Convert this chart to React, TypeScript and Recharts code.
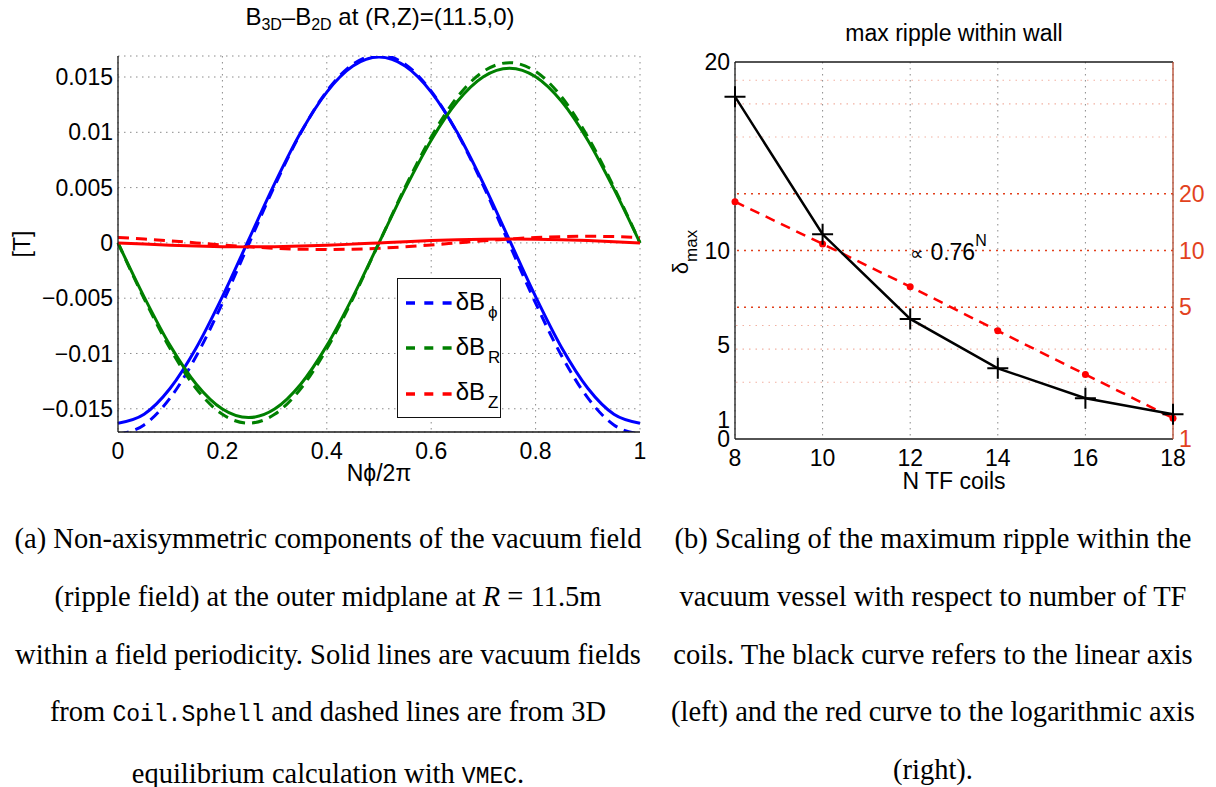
import React from 'react';
import {
  LineChart,
  ComposedChart,
  Line,
  XAxis,
  YAxis,
  CartesianGrid,
  Legend,
  ReferenceLine,
} from 'recharts';

const SANS = "'Liberation Sans', Arial, Helvetica, sans-serif";
const SERIF = "'Liberation Serif', 'Times New Roman', serif";
const MONO = "'Liberation Mono', 'DejaVu Sans Mono', monospace";

// ---------- (a) ripple field along one field period ----------
const phase = [0, 0.05, 0.1, 0.15, 0.2, 0.25, 0.3, 0.35, 0.4, 0.45, 0.5, 0.55, 0.6, 0.65, 0.7, 0.75, 0.8, 0.85, 0.9, 0.95, 1];
// dashed: VMEC 3D equilibrium
const bPhiVmec = [-0.0173, -0.01646, -0.01402, -0.01023, -0.00545, -0.00015, 0.00515, 0.00993, 0.01372, 0.01616, 0.017, 0.01616, 0.01372, 0.00993, 0.00515, -0.00015, -0.00545, -0.01023, -0.01402, -0.01646, -0.0173];
const bRVmec = [0, -0.00504, -0.00958, -0.01319, -0.0155, -0.0163, -0.0155, -0.01319, -0.00958, -0.00504, 0, 0.00504, 0.00958, 0.01319, 0.0155, 0.0163, 0.0155, 0.01319, 0.00958, 0.00504, 0];
const bZVmec = [0.00049, 0.00035, 0.00019, 0, -0.00019, -0.00035, -0.00049, -0.00057, -0.0006, -0.00057, -0.00049, -0.00035, -0.00019, 0, 0.00019, 0.00035, 0.00049, 0.00057, 0.0006, 0.00057, 0.00049];
// solid: Coil.Sphell vacuum field
const bPhiCoil = [-0.0163, -0.01549, -0.01314, -0.00948, -0.00486, 0.00025, 0.00536, 0.00998, 0.01364, 0.01599, 0.0168, 0.01599, 0.01364, 0.00998, 0.00536, 0.00025, -0.00486, -0.00948, -0.01314, -0.01549, -0.0163];
const bRCoil = [0, -0.00488, -0.00929, -0.01278, -0.01503, -0.0158, -0.01503, -0.01278, -0.00929, -0.00488, 0, 0.00488, 0.00929, 0.01278, 0.01503, 0.0158, 0.01503, 0.01278, 0.00929, 0.00488, 0];
const bZCoil = [0, -0.00011, -0.00021, -0.00029, -0.00034, -0.00036, -0.00034, -0.00029, -0.00021, -0.00011, 0, 0.00011, 0.00021, 0.00029, 0.00034, 0.00036, 0.00034, 0.00029, 0.00021, 0.00011, 0];
const phaseTicks = [0, 0.2, 0.4, 0.6, 0.8, 1];
const fieldTicks = [-0.015, -0.01, -0.005, 0, 0.005, 0.01, 0.015];
const legendSubs = ['\u03d5', 'R', 'Z'];
const seriesColors = ['#0000ff', '#008000', '#ff0000'];

// ---------- (b) max ripple vs number of TF coils ----------
const coilCounts = [8, 10, 12, 14, 16, 18];
const rippleLinear = [18.16, 10.86, 6.37, 3.75, 2.16, 1.31];
const rippleLog = [18.15, 10.83, 6.43, 3.75, 2.2, 1.29];
const linTicks = [0, 1, 5, 10, 20];
const logTicks = [1, 5, 10, 20];
const logGridMajor = [5, 10, 20];
const logGridMinor = [2, 3, 4, 40, 60, 80];

// ---------- captions ----------
const captionA: React.ReactNode[] = [
  '(a) Non-axisymmetric components of the vacuum field',
  <>(ripple field) at the outer midplane at <i>R</i> = 11.5m</>,
  'within a field periodicity. Solid lines are vacuum fields',
  <>from <span style={{ fontFamily: MONO, fontSize: 23 }}>Coil.Sphell</span> and dashed lines are from 3D</>,
  <>equilibrium calculation with <span style={{ fontFamily: MONO, fontSize: 23 }}>VMEC</span>.</>,
];
const captionB: React.ReactNode[] = [
  '(b) Scaling of the maximum ripple within the',
  'vacuum vessel with respect to number of TF',
  'coils. The black curve refers to the linear axis',
  '(left) and the red curve to the logarithmic axis',
  '(right).',
];

const fieldData = phase.map((x, i) => ({
  x,
  phiV: bPhiVmec[i],
  rV: bRVmec[i],
  zV: bZVmec[i],
  phiC: bPhiCoil[i],
  rC: bRCoil[i],
  zC: bZCoil[i],
}));

const rippleData = coilCounts.map((n, i) => ({ n, lin: rippleLinear[i], log: rippleLog[i] }));

const fmtField = (v: number) => (v === 0 ? '0' : v < 0 ? '\u2212' + String(-v) : String(v));

const tickStyle = { fill: '#000', fontSize: 23, fontFamily: SANS };
const axisLine = { stroke: '#1a1a1a', strokeWidth: 1.3 };

const FieldLegend = () => (
  <div
    style={{
      position: 'relative',
      width: 104,
      height: 140,
      border: '1.5px solid #111',
      background: '#fff',
      boxSizing: 'border-box',
      fontFamily: SANS,
      color: '#000',
    }}
  >
    {legendSubs.map((s, i) => {
      const ly = 24 + i * 45.2;
      return (
        <React.Fragment key={s}>
          <svg width={50} height={10} style={{ position: 'absolute', left: 8, top: ly - 5 }}>
            <line x1={0} x2={46} y1={5} y2={5} stroke={seriesColors[i]} strokeWidth={3.5} strokeDasharray="9 9.3" />
          </svg>
          <div
            style={{
              position: 'absolute',
              left: 58,
              top: ly - 13.5,
              fontSize: 24,
              lineHeight: '24px',
              whiteSpace: 'nowrap',
            }}
          >
            {'\u03b4B'}
            <span style={{ fontSize: 17, position: 'relative', top: 8, marginLeft: 3 }}>{s}</span>
          </div>
        </React.Fragment>
      );
    })}
  </div>
);

const PlusDot = (props: any) => {
  const { cx, cy, index } = props;
  if (cx == null || cy == null) return <g key={`plus-${index}`} />;
  return (
    <path
      key={`plus-${index}`}
      d={`M${cx - 10.5},${cy}H${cx + 10.5}M${cx},${cy - 10.5}V${cy + 10.5}`}
      stroke="#000"
      strokeWidth={2}
      fill="none"
    />
  );
};

const abs = (left: number, top: number, extra: React.CSSProperties = {}): React.CSSProperties => ({
  position: 'absolute',
  left,
  top,
  whiteSpace: 'nowrap',
  ...extra,
});

export default function App() {
  return (
    <div
      style={{
        position: 'absolute',
        left: 0,
        top: 0,
        width: 1216,
        height: 787,
        background: '#fff',
        overflow: 'hidden',
        fontFamily: SANS,
        color: '#000',
      }}
    >
      {/* ---------------- (a) ---------------- */}
      <div style={abs(0, 0)}>
        <LineChart width={680} height={500} data={fieldData} margin={{ top: 56, right: 40, bottom: 38, left: 58 }}>
          <CartesianGrid stroke="#8a8a8a" strokeWidth={1} strokeDasharray="1.5 4.5" />
          <XAxis
            dataKey="x"
            type="number"
            domain={[0, 1]}
            ticks={phaseTicks}
            tick={tickStyle}
            axisLine={axisLine}
            tickLine={false}
            tickSize={8}
            tickMargin={3}
            height={30}
          />
          <YAxis
            type="number"
            domain={[-0.0171, 0.0169]}
            ticks={fieldTicks}
            tickFormatter={fmtField}
            tick={tickStyle}
            axisLine={axisLine}
            tickLine={false}
            tickSize={3}
            tickMargin={2}
            width={60}
            allowDataOverflow
          />
          <Legend
            layout="horizontal"
            verticalAlign="middle"
            align="center"
            content={() => <FieldLegend />}
            wrapperStyle={{ position: 'absolute', left: 396.7, top: 278.3, width: 104, height: 140 }}
          />
          <Line dataKey="phiV" type="monotone" stroke={seriesColors[0]} strokeWidth={3} strokeDasharray="11 7" dot={false} isAnimationActive={false} />
          <Line dataKey="rV" type="monotone" stroke={seriesColors[1]} strokeWidth={3} strokeDasharray="11 7" dot={false} isAnimationActive={false} />
          <Line dataKey="zV" type="monotone" stroke={seriesColors[2]} strokeWidth={3} strokeDasharray="11 7" dot={false} isAnimationActive={false} />
          <Line dataKey="phiC" type="monotone" stroke={seriesColors[0]} strokeWidth={3} dot={false} isAnimationActive={false} />
          <Line dataKey="rC" type="monotone" stroke={seriesColors[1]} strokeWidth={3} dot={false} isAnimationActive={false} />
          <Line dataKey="zC" type="monotone" stroke={seriesColors[2]} strokeWidth={3} dot={false} isAnimationActive={false} />
        </LineChart>
      </div>

      <div style={abs(380, 4.7, { transform: 'translateX(-50%)', fontSize: 24, lineHeight: '24px' })}>
        B<span style={{ fontSize: 16, position: 'relative', top: 5 }}>3D</span>
        {'\u2013'}B<span style={{ fontSize: 16, position: 'relative', top: 5 }}>2D</span> at (R,Z)=(11.5,0)
      </div>
      <div style={abs(379, 462, { transform: 'translateX(-50%)', fontSize: 23, lineHeight: '23px' })}>
        N{'\u03d5'}/2{'\u03c0'}
      </div>
      <div style={abs(21.7, 244, { transform: 'translate(-50%,-50%) rotate(-90deg)', fontSize: 23, lineHeight: '23px' })}>
        [T]
      </div>

      {/* ---------------- (b) ---------------- */}
      <div style={abs(680, 0)}>
        <ComposedChart width={536} height={500} data={rippleData} margin={{ top: 62, right: 5, bottom: 31, left: 15 }}>
          <CartesianGrid yAxisId="lin" horizontal={false} stroke="#8a8a8a" strokeWidth={1} strokeDasharray="1.5 4.5" />
          {logGridMinor.map((v) => (
            <ReferenceLine key={`mi${v}`} yAxisId="log" y={v} stroke="#f2b1a2" strokeWidth={1.2} strokeDasharray="1.5 5" />
          ))}
          {logGridMajor.map((v) => (
            <ReferenceLine key={`ma${v}`} yAxisId="log" y={v} stroke="#e2401c" strokeWidth={1.4} strokeDasharray="2 5" />
          ))}
          <XAxis
            dataKey="n"
            type="number"
            domain={[8, 18]}
            ticks={coilCounts}
            tick={tickStyle}
            axisLine={axisLine}
            tickLine={false}
            tickSize={8}
            tickMargin={3}
            height={30}
          />
          <YAxis
            yAxisId="lin"
            orientation="left"
            type="number"
            domain={[0, 20]}
            ticks={linTicks}
            tick={tickStyle}
            axisLine={axisLine}
            tickLine={false}
            tickSize={3}
            tickMargin={2}
            width={40}
            interval={0}
          />
          <YAxis
            yAxisId="log"
            orientation="right"
            type="number"
            scale="log"
            domain={[1, 100]}
            ticks={logTicks}
            tick={{ fill: '#e2421d', fontSize: 23, fontFamily: SANS }}
            axisLine={{ stroke: '#b4452a', strokeWidth: 1.3 }}
            tickLine={false}
            tickSize={3}
            tickMargin={3}
            width={38}
            interval={0}
            allowDataOverflow
          />
          <ReferenceLine yAxisId="lin" y={20} stroke="#1a1a1a" strokeWidth={1.3} />
          <Line
            yAxisId="log"
            dataKey="log"
            type="linear"
            stroke="#ff0000"
            strokeWidth={2.5}
            strokeDasharray="10 7"
            dot={{ r: 3.5, fill: '#ff0000', stroke: 'none' }}
            isAnimationActive={false}
          />
          <Line
            yAxisId="lin"
            dataKey="lin"
            type="linear"
            stroke="#000"
            strokeWidth={2.5}
            dot={PlusDot}
            isAnimationActive={false}
          />
        </ComposedChart>
      </div>

      <div style={abs(954, 22, { transform: 'translateX(-50%)', fontSize: 23, lineHeight: '23px' })}>
        max ripple within wall
      </div>
      <div style={abs(954, 470, { transform: 'translateX(-50%)', fontSize: 23, lineHeight: '23px' })}>
        N TF coils
      </div>
      <div style={abs(682, 252, { transform: 'translate(-50%,-50%) rotate(-90deg)', fontSize: 22, lineHeight: '22px' })}>
        {'\u03b4'}
        <span style={{ fontSize: 17, position: 'relative', top: 9 }}>max</span>
      </div>
      <div style={abs(910, 240.5, { fontSize: 23, lineHeight: '23px' })}>
        <span style={{ fontSize: 19 }}>{'\u221d'}</span> 0.76
        <span style={{ fontSize: 16, position: 'relative', top: -14 }}>N</span>
      </div>

      {/* ---------------- captions ---------------- */}
      <div style={abs(328 - 360, 510, { width: 720, textAlign: 'center', fontFamily: SERIF, fontSize: 28.5, lineHeight: '57.75px' })}>
        {captionA.map((l, i) => (
          <div key={i}>{l}</div>
        ))}
      </div>
      <div style={abs(933 - 300, 510, { width: 600, textAlign: 'center', fontFamily: SERIF, fontSize: 28.5, lineHeight: '57.75px' })}>
        {captionB.map((l, i) => (
          <div key={i}>{l}</div>
        ))}
      </div>
    </div>
  );
}
